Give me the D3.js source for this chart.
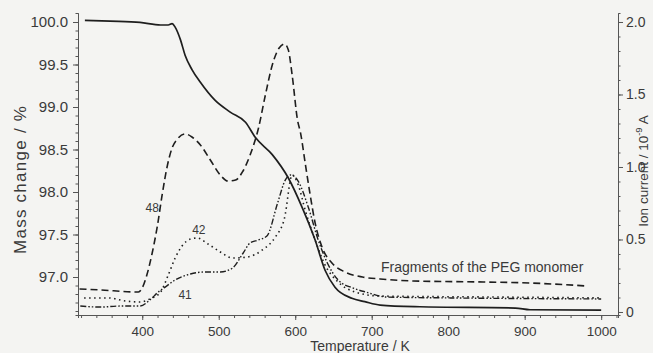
<!DOCTYPE html>
<html>
<head>
<meta charset="utf-8">
<script src="https://cdn.jsdelivr.net/npm/d3@7"></script>
<style>
  body { margin: 0; background: #f4f4f2; }
  svg { display: block; }
  .axis text { font-family: "Liberation Sans", Arial, sans-serif; fill: #3a3a3a; }
  .axis path, .axis line { stroke: #555; }
</style>
</head>
<body>
<svg id="chart" width="653" height="353"></svg>
<script>
// mass change (left axis, %)
var massT = [325, 358, 397, 424, 434, 439, 443, 450, 456, 465, 476, 495, 515, 535, 548, 570, 591, 609, 626, 639, 652, 674, 691, 711, 763, 888, 907, 1000];
var massV = [100.02, 100.01, 99.995, 99.965, 99.965, 99.98, 99.94, 99.79, 99.61, 99.44, 99.29, 99.08, 98.94, 98.82, 98.64, 98.44, 98.165, 97.82, 97.435, 97.08, 96.88, 96.75, 96.71, 96.67, 96.65, 96.635, 96.615, 96.61];

// m/z 48 (right axis, 10^-9 A)
var ion48T = [318, 345, 395, 400, 406, 413, 420, 426, 433, 439, 446, 456, 465, 476, 489, 502, 512, 522, 531, 541, 552, 561, 570, 579, 586, 591, 596, 603, 607, 613, 620, 626, 635, 648, 665, 688, 711, 754, 846, 907, 982];
var ion48V = [0.159, 0.152, 0.138, 0.166, 0.255, 0.407, 0.6, 0.807, 1.014, 1.131, 1.193, 1.228, 1.207, 1.152, 1.048, 0.945, 0.903, 0.91, 0.966, 1.083, 1.269, 1.497, 1.703, 1.821, 1.848, 1.807, 1.634, 1.324, 1.234, 1.028, 0.793, 0.614, 0.448, 0.338, 0.276, 0.241, 0.228, 0.214, 0.207, 0.2, 0.179];

// m/z 42
var ion42T = [324, 356, 378, 397, 410, 424, 434, 443, 452, 463, 472, 486, 502, 518, 537, 557, 574, 586, 596, 604, 613, 626, 639, 656, 678, 711, 868, 1000];
var ion42V = [0.097, 0.097, 0.076, 0.069, 0.09, 0.138, 0.255, 0.372, 0.455, 0.503, 0.51, 0.469, 0.414, 0.372, 0.379, 0.428, 0.517, 0.648, 0.945, 0.876, 0.703, 0.497, 0.324, 0.207, 0.138, 0.11, 0.103, 0.097];

// m/z 41
var ion41T = [319, 345, 371, 397, 410, 421, 430, 443, 463, 482, 502, 518, 532, 541, 552, 563, 577, 587, 594, 603, 617, 630, 642, 656, 675, 692, 720, 803, 1000];
var ion41V = [0.041, 0.034, 0.041, 0.041, 0.083, 0.138, 0.172, 0.221, 0.262, 0.276, 0.276, 0.303, 0.407, 0.476, 0.497, 0.524, 0.752, 0.91, 0.945, 0.91, 0.724, 0.497, 0.338, 0.221, 0.166, 0.138, 0.103, 0.097, 0.09];

var xTicks = [400, 500, 600, 700, 800, 900, 1000];
var leftTicks = [97.0, 97.5, 98.0, 98.5, 99.0, 99.5, 100.0];
var rightTicks = [0, 0.5, 1.0, 1.5, 2.0];

var svg = d3.select("#chart"),
    mLeft = 78, mRight = 618, mTop = 13, mBottom = 315;

var x = d3.scaleLinear().domain([316, 1022]).range([mLeft, mRight]),
    yL = d3.scaleLinear().domain([96.553, 100.106]).range([mBottom, mTop]),
    yR = d3.scaleLinear().domain([-0.0207, 2.062]).range([mBottom, mTop]);

// minor ticks first, majors on top
svg.append("g").attr("class", "axis")
    .attr("transform", "translate(0," + mBottom + ")")
    .call(d3.axisBottom(x).tickValues(d3.range(320, 1021, 20)).tickSize(3).tickFormat(""));
svg.append("g").attr("class", "axis")
    .attr("transform", "translate(" + mLeft + ",0)")
    .call(d3.axisLeft(yL).tickValues(d3.range(96.6, 100.05, 0.1)).tickSize(2.5).tickFormat(""));
svg.append("g").attr("class", "axis")
    .attr("transform", "translate(" + mRight + ",0)")
    .call(d3.axisRight(yR).tickValues(d3.range(0, 2.05, 0.1)).tickSize(2.5).tickFormat(""));

var gx = svg.append("g").attr("class", "axis")
    .attr("transform", "translate(0," + mBottom + ")")
    .call(d3.axisBottom(x).tickValues(xTicks).tickFormat(d3.format("d")).tickSize(5).tickPadding(6).tickSizeOuter(0));
gx.selectAll("text").style("font-size", "13.5px");

var gl = svg.append("g").attr("class", "axis")
    .attr("transform", "translate(" + mLeft + ",0)")
    .call(d3.axisLeft(yL).tickValues(leftTicks).tickFormat(d3.format(".1f")).tickSize(5).tickPadding(5).tickSizeOuter(0));
gl.selectAll("text").style("font-size", "15px");

var gr = svg.append("g").attr("class", "axis")
    .attr("transform", "translate(" + mRight + ",0)")
    .call(d3.axisRight(yR).tickValues(rightTicks)
        .tickFormat(function (d) { return d === 0 ? "0" : d.toFixed(1); })
        .tickSize(5).tickPadding(3).tickSizeOuter(0));
gr.selectAll("text").style("font-size", "14px");

// axis titles
var font = "Liberation Sans, Arial, sans-serif";
svg.append("text")
    .attr("transform", "translate(26,180) rotate(-90)")
    .attr("text-anchor", "middle")
    .attr("textLength", 148).attr("lengthAdjust", "spacing")
    .style("font-family", font).style("font-size", "17px").style("fill", "#3a3a3a")
    .text("Mass change / %");

var ionLabel = svg.append("text")
    .attr("transform", "translate(648,171) rotate(-90)")
    .attr("text-anchor", "middle")
    .style("font-family", font).style("font-size", "13.5px").style("fill", "#3a3a3a");
ionLabel.append("tspan").text("Ion current / 10");
ionLabel.append("tspan").attr("dy", -6).style("font-size", "9.5px").text("-9");
ionLabel.append("tspan").attr("dy", 6).text(" A");

svg.append("text")
    .attr("x", 360).attr("y", 351)
    .attr("text-anchor", "middle")
    .style("font-family", font).style("font-size", "14px").style("fill", "#3a3a3a")
    .text("Temperature / K");

// curves
function zip(ts, vs) { return ts.map(function (t, i) { return [t, vs[i]]; }); }

function drawLine(ts, vs, yScale, dash, width) {
    var line = d3.line()
        .x(function (d) { return x(d[0]); })
        .y(function (d) { return yScale(d[1]); })
        .curve(d3.curveMonotoneX);
    svg.append("path")
        .datum(zip(ts, vs))
        .attr("fill", "none")
        .attr("stroke", "#1e1e1e")
        .attr("stroke-width", width)
        .attr("stroke-dasharray", dash)
        .attr("d", line);
}

drawLine(ion41T, ion41V, yR, "6,2,1.5,2,1.5,2", 1.4);
drawLine(ion42T, ion42V, yR, "1.5,3.5", 1.6);
drawLine(ion48T, ion48V, yR, "7,4", 1.6);
drawLine(massT, massV, yL, null, 1.7);

// curve labels
var labels = [
    { text: "48", t: 413, v: 0.69 },
    { text: "42", t: 474, v: 0.54 },
    { text: "41", t: 456, v: 0.09 }
];
svg.selectAll(".clabel").data(labels).enter().append("text")
    .attr("class", "clabel")
    .attr("x", function (d) { return x(d.t); })
    .attr("y", function (d) { return yR(d.v); })
    .attr("text-anchor", "middle")
    .style("font-family", font).style("font-size", "12px").style("fill", "#3a3a3a")
    .text(function (d) { return d.text; });

svg.append("text")
    .attr("x", 381).attr("y", 272)
    .style("font-family", font).style("font-size", "14px").style("fill", "#3a3a3a")
    .text("Fragments of the PEG monomer");
</script>
</body>
</html>
